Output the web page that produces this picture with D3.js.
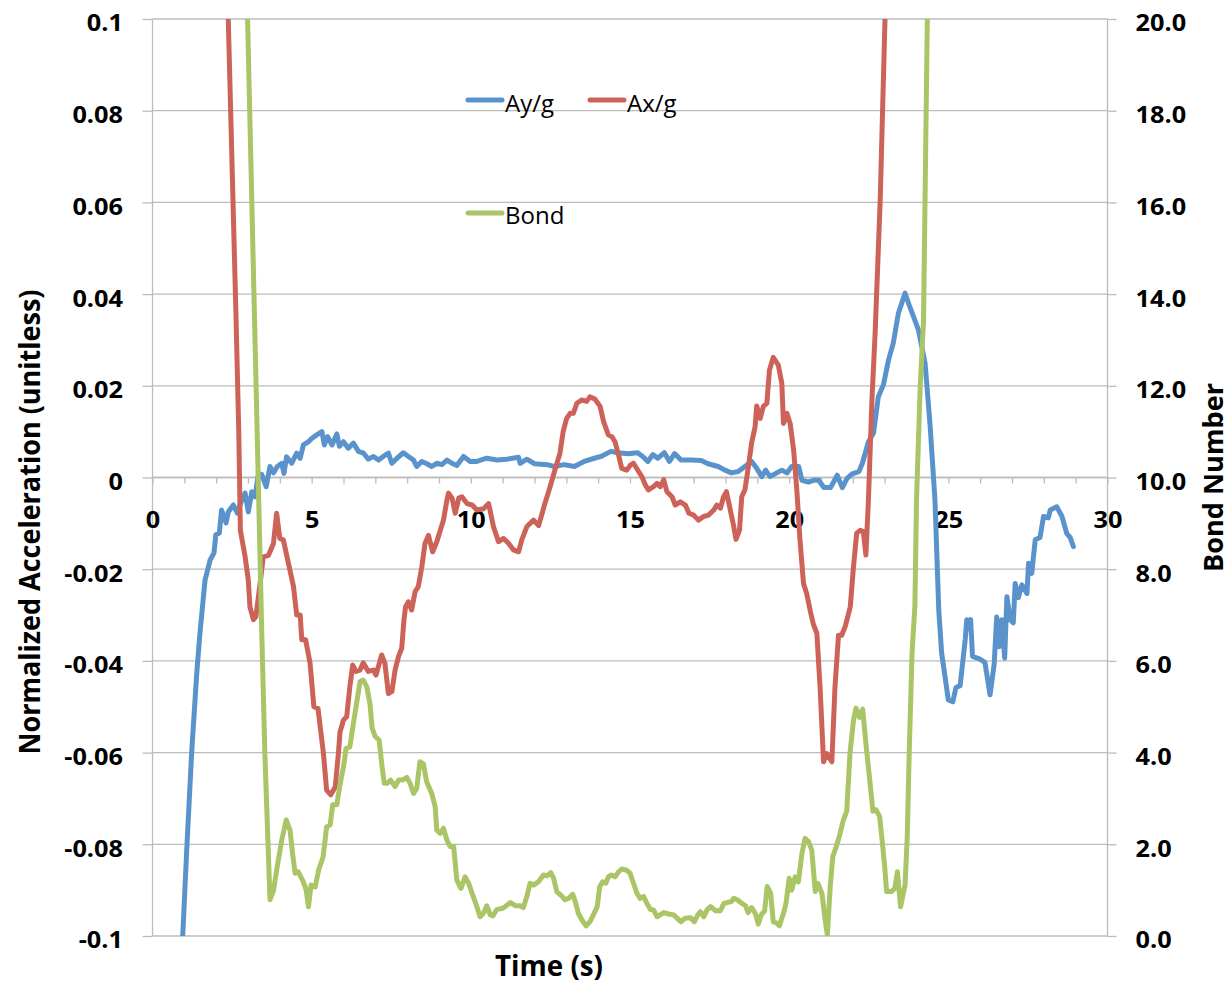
<!DOCTYPE html>
<html><head><meta charset="utf-8">
<script src="https://cdn.jsdelivr.net/npm/d3@7"></script>
<style>
body{margin:0;background:#fff;}
svg{display:block;}
</style></head><body>
<svg id="chart" width="1232" height="983"></svg>
<script>
// ---------- DATA ----------
const seriesNames = ["Ay/g", "Ax/g", "Bond"];

const ayTime = [0.95,1.07,1.23,1.39,1.49,1.65,1.81,1.93,1.99,2.10,2.17,2.31,2.38,2.54,2.67,2.80,2.91,3.01,3.12,3.22,3.32,3.43,3.57,3.69,3.80,3.92,4.06,4.13,4.21,4.37,4.53,4.64,4.74,4.90,5.00,5.16,5.32,5.40,5.50,5.64,5.79,5.87,6.00,6.15,6.31,6.47,6.63,6.78,6.94,7.10,7.25,7.41,7.52,7.68,7.88,8.04,8.20,8.30,8.46,8.62,8.77,8.93,9.09,9.25,9.41,9.56,9.77,9.98,10.19,10.50,10.82,11.13,11.50,11.55,11.76,12.00,12.40,12.62,12.93,13.25,13.56,13.88,14.09,14.40,14.61,14.93,15.24,15.40,15.56,15.72,15.87,16.08,16.24,16.40,16.61,16.92,17.24,17.45,17.77,17.98,18.19,18.40,18.61,18.82,18.98,19.14,19.26,19.40,19.61,19.77,19.93,20.08,20.30,20.40,20.61,20.77,20.93,21.09,21.30,21.51,21.67,21.82,21.98,22.19,22.30,22.49,22.65,22.80,22.96,23.12,23.27,23.43,23.64,23.75,24.06,24.27,24.43,24.58,24.70,24.79,25.00,25.14,25.24,25.37,25.53,25.58,25.64,25.70,25.76,25.99,26.15,26.31,26.44,26.52,26.60,26.68,26.77,26.84,26.94,27.04,27.10,27.20,27.31,27.47,27.52,27.62,27.73,27.88,27.99,28.14,28.20,28.41,28.57,28.72,28.83,28.93];
const ayValues = [-0.100,-0.082,-0.060,-0.0427,-0.0340,-0.0224,-0.0180,-0.0165,-0.0125,-0.0121,-0.0071,-0.0099,-0.0075,-0.0060,-0.0078,-0.0049,-0.0034,-0.0075,-0.0031,-0.0042,0.0005,0.0007,-0.0020,0.0024,0.0010,0.0024,0.0031,0.0009,0.0045,0.0031,0.0053,0.0042,0.0071,0.0078,0.0085,0.0093,0.0100,0.0071,0.0089,0.0071,0.0095,0.0068,0.0078,0.0064,0.0075,0.0057,0.0053,0.0040,0.0046,0.0038,0.0046,0.0053,0.0031,0.0042,0.0054,0.0046,0.0038,0.0024,0.0035,0.0030,0.0024,0.0031,0.0028,0.0038,0.0031,0.0026,0.0046,0.0035,0.0035,0.0042,0.0038,0.0040,0.0044,0.0031,0.0040,0.0030,0.0028,0.0024,0.0028,0.0024,0.0035,0.0042,0.0046,0.0057,0.0054,0.0052,0.0054,0.0046,0.0035,0.0050,0.0042,0.0054,0.0035,0.0052,0.0038,0.0038,0.0037,0.0030,0.0024,0.0016,0.0010,0.0013,0.0024,0.0035,0.0020,0.0002,0.0016,0.0002,0.0010,0.0016,0.0010,0.0024,0.0024,-0.0006,-0.0010,-0.0006,-0.0006,-0.0022,-0.0022,0.0005,-0.0022,-0.0002,0.0008,0.0013,0.0031,0.0078,0.0097,0.0176,0.0202,0.0256,0.0293,0.0358,0.0402,0.0380,0.0322,0.0249,0.0111,-0.0049,-0.0290,-0.0383,-0.0485,-0.0489,-0.0458,-0.0454,-0.0354,-0.0310,-0.0330,-0.0310,-0.0390,-0.0396,-0.0403,-0.0474,-0.0407,-0.0304,-0.0369,-0.0310,-0.0394,-0.0260,-0.0310,-0.0317,-0.0231,-0.0262,-0.0234,-0.0253,-0.0187,-0.0209,-0.0136,-0.0131,-0.0085,-0.0088,-0.0071,-0.0064,-0.0085,-0.0122,-0.0131,-0.0151];

const axTime = [2.20,2.38,2.62,2.71,2.76,2.91,3.01,3.06,3.17,3.25,3.38,3.48,3.64,3.80,3.90,4.00,4.11,4.27,4.43,4.53,4.64,4.69,4.81,4.95,5.07,5.20,5.37,5.47,5.60,5.74,5.84,5.89,6.00,6.10,6.20,6.29,6.39,6.52,6.62,6.78,6.94,7.02,7.20,7.30,7.41,7.52,7.62,7.73,7.83,7.90,7.95,8.04,8.14,8.25,8.35,8.46,8.56,8.67,8.80,8.93,9.04,9.14,9.25,9.30,9.41,9.51,9.62,9.72,9.88,10.04,10.19,10.40,10.56,10.71,10.87,11.03,11.19,11.34,11.50,11.60,11.76,11.97,12.13,12.33,12.49,12.64,12.80,12.90,13.01,13.12,13.22,13.33,13.48,13.64,13.74,13.90,14.06,14.17,14.32,14.43,14.53,14.64,14.74,14.90,15.01,15.11,15.27,15.37,15.48,15.58,15.74,15.85,15.95,16.06,16.16,16.32,16.42,16.58,16.74,16.85,17.00,17.15,17.31,17.47,17.63,17.73,17.84,17.94,18.03,18.13,18.26,18.33,18.44,18.51,18.61,18.72,18.82,18.93,18.98,19.09,19.19,19.30,19.38,19.50,19.66,19.77,19.82,19.93,20.03,20.14,20.24,20.34,20.45,20.55,20.66,20.76,20.87,20.97,21.08,21.18,21.34,21.44,21.55,21.65,21.76,21.92,22.02,22.12,22.23,22.33,22.41,22.49,22.60,22.70,22.86,23.01,23.20];
const axValues = [0.160,0.100,0.036,0.010,-0.0115,-0.0173,-0.0224,-0.0282,-0.0310,-0.0303,-0.0231,-0.0173,-0.0170,-0.0144,-0.0078,-0.0133,-0.0136,-0.0187,-0.0238,-0.0300,-0.0300,-0.0354,-0.0354,-0.0405,-0.0500,-0.0504,-0.0602,-0.0682,-0.0692,-0.0675,-0.0602,-0.0555,-0.0529,-0.0522,-0.0456,-0.0409,-0.0423,-0.0420,-0.0404,-0.0423,-0.0420,-0.0431,-0.0387,-0.0405,-0.0471,-0.0467,-0.0420,-0.0390,-0.0372,-0.0310,-0.0282,-0.0271,-0.0289,-0.0249,-0.0238,-0.0195,-0.0144,-0.0126,-0.0162,-0.0140,-0.0115,-0.0093,-0.0049,-0.0034,-0.0045,-0.0078,-0.0045,-0.0042,-0.0057,-0.0060,-0.0071,-0.0068,-0.0057,-0.0107,-0.0140,-0.0133,-0.0144,-0.0158,-0.0162,-0.0136,-0.0107,-0.0093,-0.0105,-0.0056,-0.0020,0.0016,0.0053,0.0100,0.0129,0.0140,0.0140,0.0162,0.0169,0.0166,0.0176,0.0171,0.0155,0.0122,0.0093,0.0089,0.0078,0.0049,0.0020,0.0016,0.0027,0.0031,0.0013,0.0002,-0.0016,-0.0027,-0.0020,-0.0013,-0.0020,-0.0005,-0.0031,-0.0042,-0.0060,-0.0053,-0.0060,-0.0078,-0.0082,-0.0093,-0.0085,-0.0082,-0.0071,-0.0060,-0.0067,-0.0042,-0.0031,-0.0064,-0.0107,-0.0135,-0.0115,-0.0042,-0.0027,0.0024,0.0075,0.0111,0.0156,0.0129,0.0155,0.0162,0.0234,0.0262,0.0245,0.0205,0.0118,0.0140,0.0118,0.0060,-0.0027,-0.0136,-0.0231,-0.0253,-0.0290,-0.0320,-0.0340,-0.0456,-0.0620,-0.0602,-0.0620,-0.0456,-0.0344,-0.0344,-0.0325,-0.0282,-0.0195,-0.0122,-0.0115,-0.0118,-0.0169,-0.0049,0.0169,0.0315,0.0605,0.0998,0.160];

const bondTime = [2.90,3.32,3.43,3.53,3.64,3.69,3.80,3.92,4.06,4.20,4.32,4.40,4.48,4.58,4.74,4.83,4.90,4.98,5.11,5.22,5.36,5.47,5.58,5.66,5.79,5.89,6.00,6.08,6.20,6.31,6.41,6.52,6.62,6.73,6.83,6.90,7.00,7.12,7.20,7.28,7.37,7.48,7.62,7.73,7.88,7.99,8.09,8.20,8.30,8.40,8.51,8.61,8.77,8.88,8.93,9.04,9.14,9.25,9.35,9.46,9.56,9.69,9.82,9.93,10.04,10.19,10.29,10.40,10.50,10.61,10.69,10.82,10.98,11.08,11.24,11.40,11.55,11.65,11.76,11.86,11.97,12.12,12.28,12.39,12.51,12.60,12.70,12.86,12.96,13.07,13.20,13.28,13.38,13.49,13.62,13.74,13.87,13.97,14.05,14.14,14.24,14.32,14.42,14.53,14.64,14.74,14.88,15.00,15.11,15.22,15.32,15.43,15.53,15.64,15.74,15.85,15.95,16.06,16.21,16.37,16.48,16.60,16.74,16.90,17.02,17.13,17.21,17.32,17.42,17.53,17.69,17.84,17.95,18.05,18.18,18.26,18.37,18.52,18.63,18.71,18.82,18.94,19.03,19.12,19.23,19.31,19.42,19.50,19.61,19.69,19.82,19.90,20.00,20.08,20.19,20.29,20.40,20.50,20.61,20.71,20.82,20.90,21.03,21.13,21.20,21.29,21.37,21.48,21.58,21.69,21.81,21.91,22.02,22.10,22.21,22.31,22.42,22.52,22.63,22.73,22.84,22.94,23.01,23.06,23.22,23.32,23.40,23.50,23.64,23.71,23.77,23.86,23.95,24.00,24.12,24.22,24.34,24.42];
const bondValues = [22.6,10.02,6.67,3.98,1.80,0.79,0.99,1.52,2.09,2.53,2.31,1.80,1.37,1.40,1.18,1.00,0.64,1.11,1.07,1.44,1.73,2.38,2.42,2.86,2.86,3.30,3.69,4.09,4.13,4.64,5.07,5.55,5.58,5.44,5.07,4.53,4.35,4.27,3.76,3.33,3.33,3.40,3.26,3.40,3.41,3.46,3.33,3.11,3.22,3.80,3.76,3.37,3.11,2.82,2.31,2.24,2.35,2.09,1.95,1.95,1.22,1.04,1.29,1.15,0.93,0.64,0.42,0.50,0.66,0.46,0.44,0.58,0.60,0.64,0.73,0.66,0.66,0.62,0.86,1.15,1.11,1.18,1.33,1.31,1.38,1.26,0.97,0.87,0.79,0.82,0.91,0.75,0.49,0.35,0.22,0.31,0.49,0.64,1.08,1.18,1.15,1.29,1.33,1.29,1.40,1.46,1.44,1.37,1.15,0.93,0.82,0.86,0.71,0.58,0.57,0.42,0.46,0.51,0.48,0.46,0.39,0.31,0.39,0.40,0.31,0.46,0.53,0.42,0.57,0.64,0.55,0.55,0.71,0.73,0.75,0.82,0.79,0.71,0.66,0.51,0.62,0.49,0.26,0.46,0.55,1.08,0.93,0.31,0.28,0.22,0.49,0.71,1.26,1.00,1.29,1.18,1.80,2.13,2.06,1.87,0.97,1.15,0.93,0.35,0.02,1.08,1.73,1.95,2.18,2.50,2.73,3.98,4.70,4.97,4.77,4.95,4.13,3.48,2.72,2.75,2.61,1.95,1.44,0.97,0.97,1.04,1.40,0.64,1.11,2.17,3.98,6.17,7.20,9.50,12.05,13.40,20.0,25.0];

const xTicks = d3.range(0, 31, 1);
const xTickLabels = {0:"0",5:"5",10:"10",15:"15",20:"20",25:"25",30:"30"};
const leftTicks = [-0.1,-0.08,-0.06,-0.04,-0.02,0,0.02,0.04,0.06,0.08,0.1];
const leftTickLabels = ["-0.1","-0.08","-0.06","-0.04","-0.02","0","0.02","0.04","0.06","0.08","0.1"];
const rightTicks = [0,2,4,6,8,10,12,14,16,18,20];
const rightTickLabels = ["0.0","2.0","4.0","6.0","8.0","10.0","12.0","14.0","16.0","18.0","20.0"];

const colors = {"Ay/g":"#5A93CB","Ax/g":"#CD6259","Bond":"#A9C565"};

// ---------- LAYOUT ----------
const L = 152.5, R = 1107.5, T = 19, B = 936;
const svg = d3.select("#chart");
const x = d3.scaleLinear().domain([0,30]).range([L,R]);
const yL = d3.scaleLinear().domain([-0.1,0.1]).range([B,T]);
const yR = d3.scaleLinear().domain([0,20]).range([B,T]);
const grid = "#bcbcbc";
const FONT = "'Open Sans', 'Liberation Sans', sans-serif";

// gridlines
svg.append("g").selectAll("line").data(leftTicks).join("line")
  .attr("x1", L).attr("x2", R)
  .attr("y1", d => yL(d)).attr("y2", d => yL(d))
  .attr("stroke", grid).attr("stroke-width", 1.3);

// left axis
const gL = svg.append("g").attr("transform", `translate(${L},0)`)
  .call(d3.axisLeft(yL).tickValues(leftTicks).tickSize(10).tickPadding(19.5)
    .tickFormat((d,i) => leftTickLabels[i]));
// right axis
const gR = svg.append("g").attr("transform", `translate(${R},0)`)
  .call(d3.axisRight(yR).tickValues(rightTicks).tickSize(9).tickPadding(19)
    .tickFormat((d,i) => rightTickLabels[i]));
// x axis at y = 0
const gX = svg.append("g").attr("transform", `translate(0,${yL(0)})`)
  .call(d3.axisBottom(x).tickValues(xTicks).tickSize(6).tickPadding(0)
    .tickFormat(d => xTickLabels[d] || ""));

[gL, gR, gX].forEach(g => {
  g.select(".domain").attr("stroke", grid).attr("stroke-width", 1.3);
  g.selectAll(".tick line").attr("stroke", grid).attr("stroke-width", 1.3);
  g.selectAll("text").attr("font-family", FONT).attr("font-weight", 700)
    .attr("font-size", 23).attr("fill", "#000");
});
gL.selectAll(".tick text").attr("dy", "0.52em").attr("dx", 0);
gR.selectAll(".tick text").attr("dy", "0.52em");
gX.selectAll(".tick text").attr("y", 50).attr("dy", 0);
// widen tick labels slightly (reference glyphs are horizontally stretched)
[gL, gR, gX].forEach(g => {
  g.selectAll(".tick text").each(function() {
    const w = this.getComputedTextLength();
    if (w > 0) d3.select(this).attr("textLength", w * 1.1).attr("lengthAdjust", "spacingAndGlyphs");
  });
});
gX.select(".domain").attr("d", `M${L},0H${R}`);
gL.select(".domain").attr("d", `M0,${T}V${B}`);
gR.select(".domain").attr("d", `M0,${T}V${B}`);

// clip
svg.append("clipPath").attr("id","plotclip").append("rect")
  .attr("x", L).attr("y", T).attr("width", R-L).attr("height", B-T);

const plot = svg.append("g").attr("clip-path","url(#plotclip)");
const lineL = d3.line().x(d => x(d[0])).y(d => yL(d[1]));
const lineR = d3.line().x(d => x(d[0])).y(d => yR(d[1]));

const ayData = ayTime.map((t,i) => [t, ayValues[i]]);
const axData = axTime.map((t,i) => [t, axValues[i]]);
const bondData = bondTime.map((t,i) => [t, bondValues[i]]);

[[ayData, lineL, "Ay/g"], [axData, lineL, "Ax/g"], [bondData, lineR, "Bond"]].forEach(([data, gen, name]) => {
  plot.append("path").datum(data).attr("d", gen)
    .attr("fill","none").attr("stroke", colors[name]).attr("stroke-width", 5)
    .attr("stroke-linejoin","round").attr("stroke-linecap","round");
});

// legend
const legendItems = [
  {name:"Ay/g", lx:468, ly:100, tx:505, ty:112},
  {name:"Ax/g", lx:590, ly:100, tx:627, ty:112},
  {name:"Bond", lx:468, ly:213, tx:505, ty:224}
];
const lg = svg.append("g");
legendItems.forEach(it => {
  lg.append("line").attr("x1", it.lx).attr("x2", it.lx+34).attr("y1", it.ly).attr("y2", it.ly)
    .attr("stroke", colors[it.name]).attr("stroke-width", 5).attr("stroke-linecap","round");
  lg.append("text").attr("x", it.tx).attr("y", it.ty).text(it.name)
    .attr("font-family", FONT).attr("font-size", 24).attr("fill","#000");
});

// axis titles
svg.append("text").attr("transform","translate(40,522) rotate(-90)")
  .attr("text-anchor","middle").attr("font-family", FONT).attr("font-weight",700)
  .attr("font-size",28).attr("textLength",465).attr("lengthAdjust","spacingAndGlyphs")
  .text("Normalized Acceleration (unitless)");
svg.append("text").attr("transform","translate(1223,477.5) rotate(-90)")
  .attr("text-anchor","middle").attr("font-family", FONT).attr("font-weight",700)
  .attr("font-size",26).attr("textLength",189).attr("lengthAdjust","spacingAndGlyphs")
  .text("Bond Number");
svg.append("text").attr("x",549).attr("y",976)
  .attr("text-anchor","middle").attr("font-family", FONT).attr("font-weight",700)
  .attr("font-size",28).attr("textLength",108).attr("lengthAdjust","spacingAndGlyphs")
  .text("Time (s)");
</script>
</body></html>
